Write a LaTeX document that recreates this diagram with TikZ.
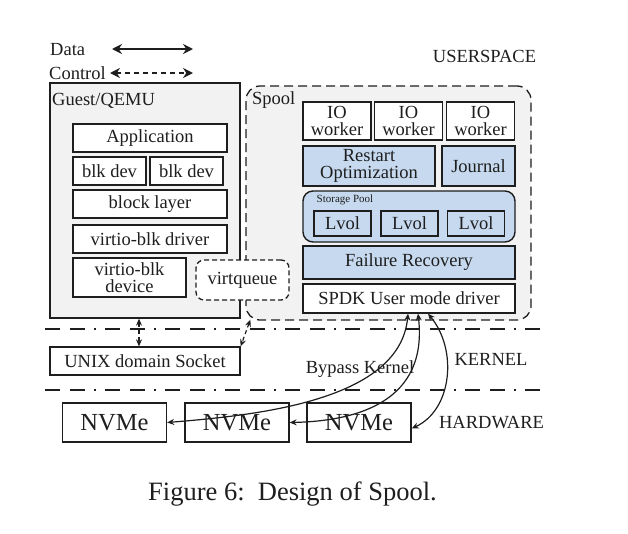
\documentclass[tikz,border=0pt]{standalone}
\usepackage{fontspec}
\setmainfont{Liberation Serif}
\usetikzlibrary{arrows.meta,calc}

\definecolor{qemugray}{RGB}{242,242,242}
\definecolor{spoolblue}{RGB}{198,217,239}
\definecolor{inkgray}{RGB}{30,30,30}

\begin{document}
\begin{tikzpicture}[x=1pt, y=-1pt, text=inkgray,
    lbl/.style={inner sep=0pt, font=\fontsize{18.5}{17}\selectfont, align=center},
    box/.style={lbl, draw=inkgray, line width=1.3pt, fill=white},
    bluebox/.style={box, fill=spoolblue},
    dashdotline/.style={draw=inkgray, line width=2pt, dash pattern=on 15pt off 10pt on 15pt off 9pt on 2pt off 9pt},
    dataarrow/.style={draw=inkgray, line width=1.2pt, {Stealth[length=7pt,width=6pt]}-{Stealth[length=7pt,width=6pt]}},
    ctrlarrow/.style={dataarrow, dash pattern=on 4pt off 3pt},
    legendtip/.style={{Stealth[length=10pt,width=10pt]}-{Stealth[length=10pt,width=10pt]}}]
    \useasboundingbox (0,0) rectangle (628,533);

    \node[lbl, anchor=west] (data) at (50,50) {Data}; \node[lbl, anchor=west] (control) at (49,73) {Control};
    \coordinate (data_a) at (112,49); \coordinate (data_b) at (193,49);
    \coordinate (ctrl_a) at (110,73); \coordinate (ctrl_b) at (193,73);
    \draw[dataarrow, legendtip, line width=2pt] (data_a) -- (data_b);
    \draw[ctrlarrow, legendtip, line width=2pt, dash pattern=on 5pt off 4pt] (ctrl_a) -- (ctrl_b);
    \node[lbl] (userspace) at (484.5,56) {USERSPACE};

    \node[box, fill=qemugray, minimum width=190pt, minimum height=235pt] (guest) at (145,200.5) {};
    \node[lbl, anchor=west] (guestlbl) at (52,101) {Guest/QEMU};
    \node[draw=inkgray, line width=1.3pt, dash pattern=on 9pt off 5pt, rounded corners=14pt, fill=qemugray, minimum width=285pt, minimum height=234pt] (spool) at (388.5,203) {};
    \node[lbl, anchor=west] (spoollbl) at (252,100) {Spool};

    \node[box, minimum width=154pt, minimum height=28pt] (app) at (150,138) {Application};
    \node[box, minimum width=73pt, minimum height=28pt] (blk1) at (109.5,171) {blk dev};
    \node[box, minimum width=73pt, minimum height=28pt] (blk2) at (186.5,171) {blk dev};
    \node[box, minimum width=154pt, minimum height=28pt] (blocklayer) at (150,204) {block layer};
    \node[box, minimum width=154pt, minimum height=28pt] (vdriver) at (150,239) {virtio-blk driver};
    \node[box, minimum width=113pt, minimum height=39pt] (vdevice) at (129.5,277.5) {virtio-blk\\device};
    \node[box, dash pattern=on 5pt off 3pt, rounded corners=8pt, minimum width=93pt, minimum height=40pt] (virtqueue) at (242.5,280) {virtqueue};

    \foreach \n/\x in {w1/337, w2/408.5, w3/480.5} {
        \node[box, minimum width=68pt, minimum height=38pt] (\n) at (\x,121) {IO\\worker};
    }
    \node[bluebox, minimum width=132pt, minimum height=40pt] (restart) at (369,166) {Restart\\Optimization};
    \node[bluebox, minimum width=73pt, minimum height=40pt] (journal) at (478.5,166) {Journal};
    \node[bluebox, rounded corners=10pt, line width=1.4pt, minimum width=212pt, minimum height=51pt] (pool) at (409,216.5) {};
    \node[lbl, font=\fontsize{11}{11}\selectfont] (poollbl) at (345,200) {Storage Pool};
    \foreach \n/\x in {lv1/342.5, lv2/409.5, lv3/476} {
        \node[bluebox, minimum width=57pt, minimum height=25pt] (\n) at (\x,223.5) {Lvol};
    }
    \node[bluebox, minimum width=212pt, minimum height=33pt] (recovery) at (409,262.5) {Failure Recovery};
    \node[box, minimum width=212pt, minimum height=29pt] (spdk) at (409,298.5) {SPDK User mode driver};

    \draw[dashdotline] (45,329) -- (540,329);
    \draw[dashdotline] (45,390) -- (540,390);
    \node[lbl] (kernel) at (491,359) {KERNEL};
    \node[lbl] (hardware) at (491.5,423) {HARDWARE};
    \node[lbl] (bypass) at (360,369) {Bypass Kernel};

    \node[box, minimum width=190pt, minimum height=28pt] (unix) at (145,361) {UNIX domain Socket};
    \foreach \n/\x in {nvme1/114.5, nvme2/237, nvme3/359} {
        \node[box, font=\fontsize{24.5}{24}\selectfont, minimum width=104pt, minimum height=39pt] (\n) at (\x,422.5) {NVMe};
    }

    \draw[ctrlarrow] ($(guest.south)+(-6,0)$) -- ($(unix.north)+(-6,0)$);
    \draw[ctrlarrow] ($(spool.south west)+(5,-1)$) -- (unix.north east);
    \draw[dataarrow] ($(spdk.south)+(-1,0)$) .. controls (400,400) and (260,415) .. (nvme1.east);
    \draw[dataarrow] ($(spdk.south)+(9,0)$) .. controls (428,400) and (360,421) .. (nvme2.east);
    \draw[dataarrow] ($(spdk.south)+(19,0)$) .. controls (458,350) and (452,410) .. ($(nvme3.east)+(0,6)$);

    \node[lbl, font=\fontsize{26.5}{26}\selectfont] (caption) at (292.5,494) {Figure 6:\ \ Design of Spool.};
\end{tikzpicture}
\end{document}
